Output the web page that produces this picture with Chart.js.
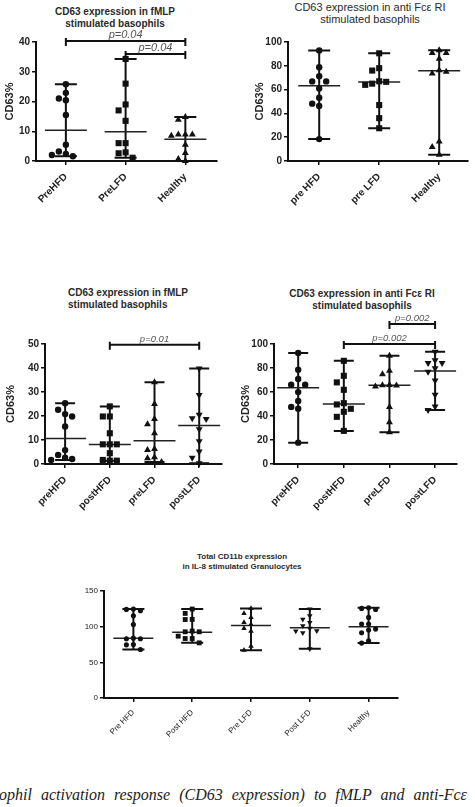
<!DOCTYPE html>
<html>
<head>
<meta charset="utf-8">
<script src="https://cdn.jsdelivr.net/npm/chart.js@4.4.1/dist/chart.umd.min.js"></script>
<style>
html, body { margin: 0; padding: 0; background: #fff; }
body { width: 475px; height: 807px; overflow: hidden; position: relative; font-family: "Liberation Sans", Arial, sans-serif; }
canvas { position: absolute; }
.ttl { position: absolute; color: #2a2a2a; white-space: nowrap; font-weight: bold; font-size: 10px; line-height: 12px; text-align: center; transform: translateX(-50%); }
.cap { position: absolute; left: -1px; top: 787px; white-space: nowrap; font-family: "Liberation Serif", "DejaVu Serif", serif; font-style: italic; font-size: 16px; line-height: 16px; word-spacing: 5px; color: #222; }
</style>
</head>
<body>
<div class="ttl" style="left:115px;top:6px;">CD63 expression in fMLP<br>stimulated basophils</div>
<div class="ttl" style="left:370px;top:1px;font-weight:normal;font-size:11px;">CD63 expression in anti Fcε RI<br>stimulated basophils</div>
<div class="ttl" style="left:68px;top:287px;text-align:left;transform:none;">CD63 expression in fMLP<br>stimulated basophils</div>
<div class="ttl" style="left:362px;top:288px;">CD63 expression in anti Fcε RI<br>stimulated basophils</div>
<div class="ttl" style="left:242px;top:552px;font-size:8px;line-height:10px;">Total CD11b expression<br>in IL-8 stimulated Granulocytes</div>
<div class="cap">ophil activation response (CD63 expression) to fMLP and anti-Fcε RI</div>

<canvas id="chartA" width="235" height="215" style="left:0px;top:0px;"></canvas>
<canvas id="chartB" width="240" height="215" style="left:235px;top:0px;"></canvas>
<canvas id="chartC" width="235" height="245" style="left:0px;top:280px;"></canvas>
<canvas id="chartD" width="240" height="245" style="left:235px;top:280px;"></canvas>
<canvas id="chartE" width="360" height="230" style="left:60px;top:540px;"></canvas>

<script>
// --- top left: CD63 in fMLP stimulated basophils (pre)
const fmlpPreLabels = ['PreHFD', 'PreLFD', 'Healthy'];
const fmlpPreValues = [
    [25.8, 22.9, 21.0, 20.4, 15.5, 5.5, 3.2, 2.4, 1.6, 2.0],
    [34.3, 26.0, 19.0, 17.0, 13.5, 6.0, 6.0, 2.9, 2.6, 1.1],
    [14.8, 13.9, 8.9, 8.9, 8.9, 8.5, 5.5, 2.7, 0.7, 0.0]
];
const fmlpPreMedians = [10.3, 9.8, 7.3];
const fmlpPreBrackets = [[0, 2, 40.3, 'p=0.04'], [1, 2, 36, 'p=0.04']];

// --- top right: CD63 in anti FceRI stimulated basophils (pre)
const fceriPreLabels = ['pre HFD', 'pre LFD', 'Healthy'];
const fceriPreValues = [
    [92.8, 78.8, 71.3, 66.9, 66.9, 61.0, 53.2, 48.2, 46.2, 18.4],
    [90.5, 78.0, 76.0, 67.0, 65.0, 66.5, 64.0, 47.0, 36.0, 27.5],
    [93.0, 90.8, 90.8, 86.0, 76.3, 73.5, 75.0, 16.4, 11.7, 5.3]
];
const fceriPreMedians = [63.2, 66.3, 75.8];

// --- middle left: CD63 in fMLP stimulated basophils (pre / post)
const fmlpLabels = ['preHFD', 'postHFD', 'preLFD', 'postLFD'];
const fmlpValues = [
    [25.3, 22.6, 20.8, 19.8, 15.6, 5.8, 3.8, 2.6, 2.1, 1.7],
    [24.0, 19.8, 19.8, 12.8, 8.2, 8.2, 8.2, 4.5, 1.7, 1.4, 1.4],
    [34.1, 25.0, 18.8, 16.6, 12.8, 6.3, 5.8, 2.8, 2.4, 0.8],
    [39.8, 28.8, 20.5, 19.1, 18.7, 14.5, 9.5, 5.2, 2.6, 0.3]
];
const fmlpMedians = [10.6, 8.1, 9.7, 16.0];
const fmlpBrackets = [[1, 3, 49.7, 'p=0.01']];

// --- middle right: CD63 in anti FceRI stimulated basophils (pre / post)
const fceriLabels = ['preHFD', 'postHFD', 'preLFD', 'postLFD'];
const fceriValues = [
    [92.5, 78.6, 70.8, 66.0, 66.0, 59.9, 52.6, 47.6, 46.0, 17.8],
    [86.0, 73.5, 68.0, 61.8, 50.7, 49.6, 46.0, 43.5, 39.3, 27.6],
    [90.3, 77.7, 74.7, 65.9, 65.7, 65.5, 64.6, 47.4, 34.8, 26.5],
    [93.6, 86.4, 84.1, 84.1, 79.7, 76.9, 69.6, 57.7, 47.9, 45.1]
];
const fceriMedians = [63.5, 50.1, 65.7, 77.4];
const fceriBrackets = [[2, 3, 116.7, 'p=0.002'], [1, 3, 100, 'p=0.002']];

// --- bottom: total CD11b in IL-8 stimulated granulocytes
const cd11bLabels = ['Pre HFD', 'Post HFD', 'Pre LFD', 'Post LFD', 'Healthy'];
const cd11bValues = [
    [124.7, 124.2, 122.3, 115.3, 103.1, 83.9, 83.0, 83.0, 75.0, 74.5, 68.0],
    [124.7, 118.6, 110.2, 110.0, 93.8, 92.8, 92.8, 86.7, 83.4, 83.4, 77.3],
    [125.6, 118.6, 113.0, 105.9, 103.1, 97.5, 93.8, 72.7, 67.0],
    [124.7, 115.3, 110.2, 105.6, 101.3, 97.5, 94.2, 93.8, 91.4, 68.9],
    [126.6, 125.6, 124.0, 113.0, 103.6, 103.6, 96.6, 95.2, 91.4, 80.2, 77.0]
];
const cd11bMedians = [83.9, 92.3, 101.7, 98.4, 100.0];

const INK = '#111';

// spread points with close values sideways (simple beeswarm), returns slot per point
function spread(vals, pxPerUnit, gap) {
    const placed = [];
    return vals.map(v => {
        const slots = [0, -1, 1, -2, 2, -3, 3];
        let k = slots.find(s => !placed.some(p => p.k === s && Math.abs(p.v - v) * pxPerUnit < gap));
        if (k === undefined) k = 0;
        placed.push({ v, k });
        return k;
    });
}

function rangePlugin(values, medians, brackets, cfg) {
    return {
        id: 'ranges',
        beforeDatasetsDraw(chart) {
            const { ctx, scales: { x, y } } = chart;
            ctx.save();
            ctx.strokeStyle = INK;
            values.forEach((vals, i) => {
                const cx = x.getPixelForValue(i + 1);
                const top = y.getPixelForValue(Math.max(...vals));
                const bot = y.getPixelForValue(Math.min(...vals));
                const med = y.getPixelForValue(medians[i]);
                ctx.lineWidth = 2;
                ctx.beginPath();
                ctx.moveTo(cx, top); ctx.lineTo(cx, bot);
                ctx.moveTo(cx - cfg.capHalf, top); ctx.lineTo(cx + cfg.capHalf, top);
                ctx.moveTo(cx - cfg.capHalf, bot); ctx.lineTo(cx + cfg.capHalf, bot);
                ctx.stroke();
                ctx.lineWidth = 1.5;
                ctx.strokeStyle = '#222';
                ctx.beginPath();
                ctx.moveTo(cx - cfg.medHalf, med); ctx.lineTo(cx + cfg.medHalf, med);
                ctx.stroke();
                ctx.strokeStyle = INK;
            });
            ctx.restore();
        },
        afterDraw(chart) {
            const { ctx, scales: { x, y } } = chart;
            ctx.save();
            (brackets || []).forEach(([a, b, level, txt]) => {
                const x1 = x.getPixelForValue(a + 1);
                const x2 = x.getPixelForValue(b + 1);
                const yy = y.getPixelForValue(level);
                ctx.strokeStyle = INK;
                ctx.lineWidth = 2;
                ctx.beginPath();
                ctx.moveTo(x1, yy); ctx.lineTo(x2, yy);
                ctx.moveTo(x1, yy - 3); ctx.lineTo(x1, yy + 5);
                ctx.moveTo(x2, yy - 3); ctx.lineTo(x2, yy + 5);
                ctx.stroke();
                ctx.fillStyle = '#555';
                ctx.font = 'italic ' + cfg.pSize + 'px "Liberation Sans", Arial, sans-serif';
                ctx.textAlign = 'center';
                ctx.textBaseline = 'alphabetic';
                ctx.fillText(txt, (x1 + x2) / 2, yy - 3);
            });
            ctx.restore();
        }
    };
}

function makePanel(cfg) {
    const canvas = document.getElementById(cfg.id);
    const a = cfg.area;
    const w = canvas.width, h = canvas.height;
    const padLeft = cfg.padLeft;
    const yWidth = a.l - padLeft;
    const xHeight = cfg.xHeight;
    const padBottom = h - a.b - xHeight;
    const pxPerUnit = (a.b - a.t) / cfg.yMax;
    const catPx = (a.r - a.l) / (cfg.xMax - cfg.xMin);
    const styles = ['circle', 'rect', 'triangle', 'triangle', 'circle'];
    const rad = { circle: 3.2, rect: 4.3, triangle: 4 };

    const datasets = cfg.values.map((vals, i) => {
        const slots = spread(vals, pxPerUnit, 7 * cfg.size);
        const style = cfg.styles ? cfg.styles[i] : styles[i];
        return {
            data: vals.map((v, j) => ({ x: i + 1 + slots[j] * cfg.jitter / catPx, y: v })),
            pointStyle: style,
            pointRadius: rad[style] * cfg.size,
            pointRotation: cfg.down && cfg.down[i] ? 180 : 0,
            backgroundColor: INK,
            borderColor: INK,
            borderWidth: 0,
            clip: false
        };
    });

    const tickFont = { family: '"Liberation Sans", Arial, sans-serif', size: cfg.fontSize, weight: cfg.fontWeight };

    return new Chart(canvas, {
        type: 'scatter',
        data: { datasets },
        options: {
            responsive: false,
            animation: false,
            layout: { padding: { left: padLeft, top: a.t, right: w - a.r, bottom: padBottom } },
            plugins: { legend: { display: false }, tooltip: { enabled: false } },
            scales: {
                x: {
                    type: 'linear',
                    min: cfg.xMin,
                    max: cfg.xMax,
                    afterBuildTicks: s => { s.ticks = cfg.labels.map((_, i) => ({ value: i + 1 })); },
                    afterFit: s => { s.height = xHeight; },
                    ticks: {
                        callback: v => cfg.labels[v - 1],
                        autoSkip: false,
                        maxRotation: 45,
                        minRotation: 45,
                        padding: cfg.xPad,
                        color: '#222',
                        font: tickFont
                    },
                    grid: { display: true, drawOnChartArea: false, tickLength: 4, color: INK, lineWidth: 1.5 },
                    border: { display: true, color: INK, width: 2 }
                },
                y: {
                    min: 0,
                    max: cfg.yMax,
                    afterFit: s => { s.width = yWidth; },
                    ticks: { stepSize: cfg.yStep, padding: 2, color: '#222', font: tickFont },
                    grid: { display: true, drawOnChartArea: false, tickLength: 4, color: INK, lineWidth: 1.5 },
                    border: { display: true, color: INK, width: 2 },
                    title: {
                        display: !!cfg.yTitle,
                        text: cfg.yTitle,
                        color: '#222',
                        padding: { top: 2, bottom: 2 },
                        font: { family: '"Liberation Sans", Arial, sans-serif', size: 11, weight: 'bold' }
                    }
                }
            }
        },
        plugins: [rangePlugin(cfg.values, cfg.medians, cfg.brackets, cfg)]
    });
}

// areas are in canvas coordinates
makePanel({
    id: 'chartA', labels: fmlpPreLabels, values: fmlpPreValues, medians: fmlpPreMedians, brackets: fmlpPreBrackets,
    area: { l: 36, t: 42, r: 217, b: 161 }, padLeft: 1, xHeight: 45, xMin: 0.5, xMax: 3.53,
    yMax: 40, yStep: 10, yTitle: 'CD63%', fontSize: 10, fontWeight: 'bold', xPad: 6,
    size: 1, jitter: 7, medHalf: 21, capHalf: 11, pSize: 11
});
makePanel({
    id: 'chartB', labels: fceriPreLabels, values: fceriPreValues, medians: fceriPreMedians, brackets: [],
    area: { l: 53, t: 42, r: 233, b: 161 }, padLeft: 16, xHeight: 45, xMin: 0.48, xMax: 3.48,
    yMax: 100, yStep: 20, yTitle: 'CD63%', fontSize: 10, fontWeight: 'bold', xPad: 6,
    size: 1, jitter: 7, medHalf: 21, capHalf: 11, pSize: 11
});
makePanel({
    id: 'chartC', labels: fmlpLabels, values: fmlpValues, medians: fmlpMedians, brackets: fmlpBrackets,
    area: { l: 45, t: 64, r: 222, b: 184 }, padLeft: 2, xHeight: 50, xMin: 0.55, xMax: 4.51,
    yMax: 50, yStep: 10, yTitle: 'CD63%', fontSize: 10, fontWeight: 'bold', xPad: 6,
    size: 1, jitter: 7, medHalf: 21, capHalf: 10, pSize: 9.5, down: [0, 0, 0, 1]
});
makePanel({
    id: 'chartD', labels: fceriLabels, values: fceriValues, medians: fceriMedians, brackets: fceriBrackets,
    area: { l: 39, t: 64, r: 222, b: 184 }, padLeft: 2, xHeight: 50, xMin: 0.47, xMax: 4.48,
    yMax: 100, yStep: 20, yTitle: 'CD63%', fontSize: 10, fontWeight: 'bold', xPad: 6,
    size: 1, jitter: 7, medHalf: 21, capHalf: 10, pSize: 9.5, down: [0, 0, 0, 1]
});
makePanel({
    id: 'chartE', labels: cd11bLabels, values: cd11bValues, medians: cd11bMedians, brackets: [],
    area: { l: 44, t: 51, r: 338, b: 158 }, padLeft: 0, xHeight: 50, xMin: 0.5, xMax: 5.5,
    yMax: 150, yStep: 50, yTitle: '', fontSize: 8, fontWeight: 'normal', xPad: 6,
    size: 0.8, jitter: 7, medHalf: 20, capHalf: 11, pSize: 9,
    styles: ['circle', 'rect', 'triangle', 'triangle', 'circle'], down: [0, 0, 0, 1, 0]
});
</script>
</body>
</html>
